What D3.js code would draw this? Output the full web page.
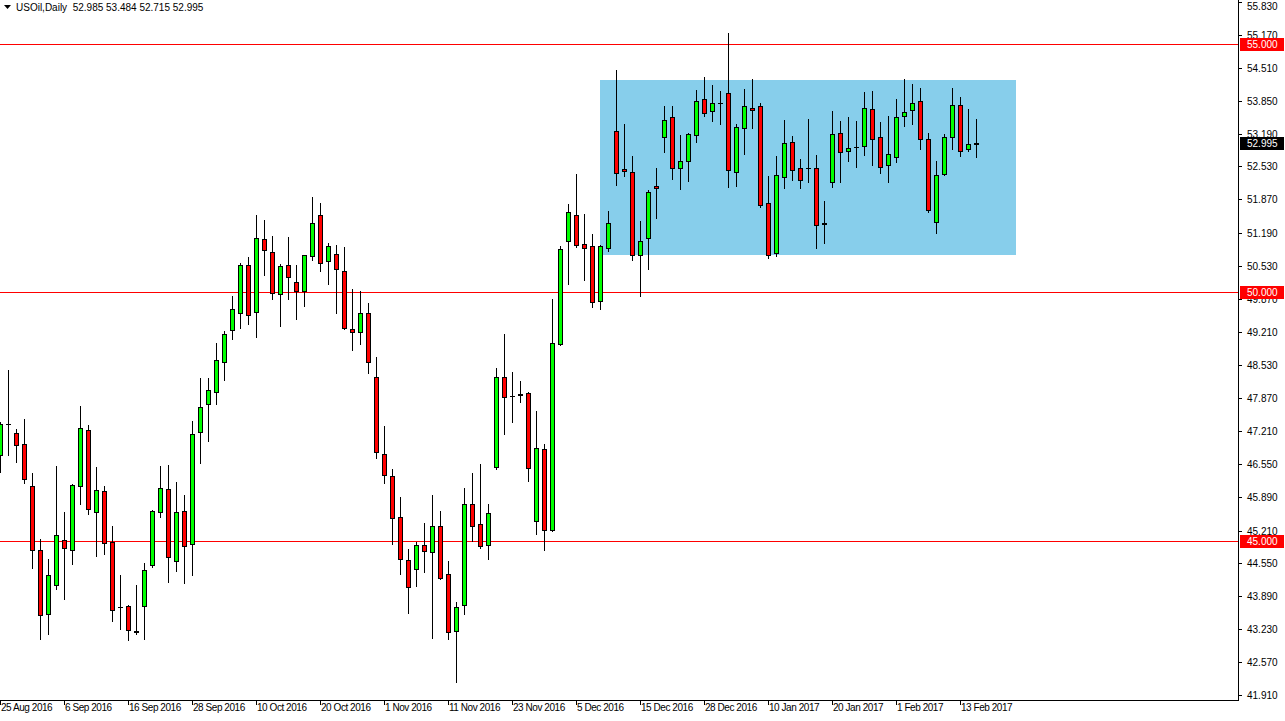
<!DOCTYPE html>
<html>
<head>
<meta charset="utf-8">
<script src="https://cdn.jsdelivr.net/npm/d3@7"></script>
<style>
html,body{margin:0;padding:0;background:#fff;}
svg{display:block;}
text{font-family:"Liberation Sans",Arial,sans-serif;}
</style>
</head>
<body>
<svg id="chart" width="1285" height="721"></svg>
<script>
const symbol = "USOil,Daily";
const lastQuote = ["52.985","53.484","52.715","52.995"];

const opens = [46.728,47.346,47.165,46.943,46.099,44.812,43.525,44.108,45.013,44.812,46.099,47.225,45.576,45.998,44.973,43.666,43.686,43.189,43.686,44.510,
45.576,46.039,44.591,45.596,44.933,47.185,47.748,47.989,48.592,49.236,49.578,50.543,49.598,51.066,50.804,49.960,50.543,50.201,50.020,50.724,
51.548,50.623,50.764,50.422,49.256,49.196,49.578,48.291,46.742,46.300,45.475,44.611,44.430,44.912,44.772,45.294,44.329,43.183,43.706,45.737,
45.335,44.912,46.481,48.291,47.909,47.945,47.969,45.395,46.843,45.214,48.954,51.026,51.548,50.965,50.925,49.819,50.885,53.238,52.473,52.413,
50.744,51.086,52.132,53.117,53.519,52.494,52.634,53.157,53.881,53.640,53.801,54.002,52.413,53.298,53.700,53.740,51.790,50.784,52.313,53.016,
52.494,52.494,52.494,51.388,52.212,53.197,52.835,52.916,52.936,53.680,53.117,52.554,52.715,53.539,53.660,53.841,53.077,51.408,52.373,53.117,
53.760,52.876,52.985];
const highs = [47.398,48.438,47.245,47.446,46.360,45.033,44.631,46.507,45.582,46.139,47.714,47.325,46.487,46.105,45.300,44.315,43.706,44.114,44.556,45.622,
46.507,46.527,46.185,45.924,47.412,48.277,48.277,48.974,49.222,49.920,50.589,50.704,51.554,51.454,51.132,50.563,51.112,50.549,50.744,51.916,
51.796,50.991,50.951,50.905,50.060,50.026,49.779,48.699,47.311,46.441,45.878,44.832,44.979,45.355,45.918,45.596,44.591,43.766,46.059,46.372,
46.541,45.737,48.472,49.155,48.391,48.210,47.989,47.607,46.943,49.859,50.931,51.770,52.373,51.569,51.166,50.945,51.629,54.464,53.378,52.735,
51.428,52.051,52.494,53.740,53.740,53.157,53.197,54.062,54.323,54.163,54.042,55.208,53.378,54.082,54.283,53.801,52.333,52.735,53.459,53.137,
52.674,53.479,52.755,51.830,53.640,53.439,53.519,53.439,54.022,54.042,53.419,53.539,53.881,54.283,54.183,54.102,53.197,52.634,53.177,54.102,
53.921,53.680,53.484];
const lows = [46.392,46.728,46.594,46.171,44.462,43.022,43.135,44.040,43.827,44.530,45.749,45.536,44.703,44.744,43.396,43.235,43.014,43.135,43.034,44.482,
45.488,44.180,44.396,44.160,44.321,46.573,47.016,47.760,48.242,49.067,49.288,49.369,49.107,50.354,49.859,49.328,49.871,49.469,49.731,50.643,
50.422,50.173,49.590,49.256,48.846,48.966,48.383,46.668,46.171,44.945,44.329,43.545,44.088,44.382,43.054,44.240,43.022,42.170,43.525,44.993,
44.852,44.631,46.441,47.145,47.386,47.788,46.199,45.134,44.812,45.200,48.940,50.161,50.905,50.253,49.698,49.658,50.824,52.152,52.333,50.643,
49.920,50.463,51.488,52.815,52.284,52.071,52.232,53.016,53.539,53.439,53.378,52.111,52.132,52.775,53.298,51.721,50.684,50.724,52.091,52.252,
52.091,52.212,50.885,50.985,52.111,52.212,52.634,52.526,52.755,52.554,52.393,52.212,52.614,53.338,53.378,52.876,51.609,51.186,52.360,52.876,
52.735,52.835,52.715];
const closes = [47.346,47.352,46.923,46.240,44.812,43.505,44.309,45.114,44.852,46.119,47.265,45.642,46.018,44.953,43.605,43.670,43.203,43.163,44.410,45.596,
46.059,44.671,45.576,44.892,47.145,47.687,48.029,48.633,49.155,49.658,50.543,49.537,51.086,50.845,49.980,50.523,50.302,50.020,50.744,51.388,
50.583,50.925,50.463,49.276,49.196,49.578,48.604,46.789,46.320,45.455,44.631,44.068,44.912,44.792,45.294,44.249,43.163,43.666,45.737,45.294,
44.892,45.556,48.291,47.889,47.905,47.929,46.461,46.863,45.214,48.974,50.865,51.609,50.945,50.885,49.799,50.925,51.388,52.393,52.433,50.744,
51.026,52.011,52.091,53.459,52.494,52.634,53.177,53.841,53.600,53.801,53.805,52.453,53.318,53.740,53.660,51.749,50.744,52.353,52.996,52.453,
52.252,52.490,51.347,51.367,53.177,52.815,52.896,52.920,53.700,53.077,52.514,52.775,53.519,53.620,53.801,53.077,51.649,52.353,53.117,53.760,
52.835,52.985,52.995];

const dateLabels = ["25 Aug 2016","6 Sep 2016","16 Sep 2016","28 Sep 2016","10 Oct 2016","20 Oct 2016","1 Nov 2016","11 Nov 2016",
"23 Nov 2016","5 Dec 2016","15 Dec 2016","28 Dec 2016","10 Jan 2017","20 Jan 2017","1 Feb 2017","13 Feb 2017"];
const dateLabelBars = [0,8,16,24,32,40,48,56,64,72,80,88,96,104,112,120];

const priceTicks = [55.830,55.170,54.510,53.850,53.190,52.530,51.870,51.190,50.530,49.870,49.210,48.530,47.870,47.210,46.550,45.890,45.210,44.550,43.890,43.230,42.570,41.910];

const levels = [55.000, 50.000, 45.000];
const levelLabels = ["55.000","50.000","45.000"];
const currentPrice = 52.995;

// range box: bar index span and price span
const boxBars = [75, 127];
const boxPrices = [54.269, 50.756];

const W = 1285, H = 721;
const plotRight = 1238, plotBottom = 700;

const svg = d3.select("#chart");
const x = d3.scaleLinear().domain([0, 122]).range([0, 976]);
const y = d3.scaleLinear().domain([50, 55]).range([292.3, 43.65]);

// box
svg.append("rect")
  .attr("x", Math.round(x(boxBars[0])))
  .attr("y", Math.round(y(boxPrices[0])))
  .attr("width", Math.round(x(boxBars[1])) - Math.round(x(boxBars[0])))
  .attr("height", Math.round(y(boxPrices[1])) - Math.round(y(boxPrices[0])))
  .attr("fill", "#87ceeb");

// level lines
svg.selectAll("line.level").data(levels).join("line")
  .attr("class","level")
  .attr("x1", 0).attr("x2", plotRight)
  .attr("y1", d => Math.round(y(d)) + 0.5).attr("y2", d => Math.round(y(d)) + 0.5)
  .attr("stroke", "#ff0000").attr("stroke-width", 1).attr("shape-rendering","crispEdges");

// candles
const bars = d3.range(opens.length).map(i => ({i, o: opens[i], h: highs[i], l: lows[i], c: closes[i]}));
const g = svg.append("g").attr("shape-rendering","crispEdges");
bars.forEach(b => {
  const cx = Math.round(x(b.i));
  const yh = Math.round(y(b.h)), yl = Math.round(y(b.l));
  const top = Math.round(y(Math.max(b.o, b.c))), bot = Math.round(y(Math.min(b.o, b.c)));
  g.append("line").attr("x1", cx + 0.5).attr("x2", cx + 0.5).attr("y1", yh).attr("y2", yl + 1)
    .attr("stroke", "#000").attr("stroke-width", 1);
  if (bot - top < 2) {
    g.append("rect").attr("x", cx - 2).attr("y", top).attr("width", 5).attr("height", Math.max(1, bot - top + 1))
      .attr("fill", "#000");
  } else {
    g.append("rect").attr("x", cx - 1.5).attr("y", top + 0.5).attr("width", 4).attr("height", bot - top)
      .attr("fill", b.c >= b.o ? "#00ff00" : "#ff0000").attr("stroke", "#000").attr("stroke-width", 1);
  }
});

// axes frame
svg.append("line").attr("x1", plotRight + 0.5).attr("x2", plotRight + 0.5).attr("y1", 0).attr("y2", plotBottom + 1)
  .attr("stroke", "#000").attr("shape-rendering","crispEdges");
svg.append("line").attr("x1", 0).attr("x2", plotRight + 1).attr("y1", plotBottom + 0.5).attr("y2", plotBottom + 0.5)
  .attr("stroke", "#000").attr("shape-rendering","crispEdges");

// price ticks & labels
const pt = svg.append("g");
priceTicks.forEach((p, idx) => {
  const yy = Math.round(y(p));
  pt.append("line").attr("x1", plotRight).attr("x2", plotRight + 4).attr("y1", yy + 0.5).attr("y2", yy + 0.5)
    .attr("stroke", "#000").attr("shape-rendering","crispEdges");
  pt.append("text").attr("x", plotRight + 9).attr("y", Math.max(yy, 6)).attr("dy", "0.35em")
    .attr("font-size", "10px").attr("fill", "#000").text(p.toFixed(3));
});

// level labels
levels.forEach((lv, i) => {
  const yy = Math.round(y(lv));
  svg.append("rect").attr("x", plotRight + 2).attr("y", yy - 6).attr("width", 44).attr("height", 13).attr("fill", "#ff0000");
  svg.append("text").attr("x", plotRight + 9).attr("y", yy + 0.5).attr("dy", "0.35em")
    .attr("font-size", "10px").attr("fill", "#fff").text(levelLabels[i]);
});

// current price label
{
  const yy = Math.round(y(currentPrice));
  svg.append("rect").attr("x", plotRight + 2).attr("y", yy - 6).attr("width", 44).attr("height", 13).attr("fill", "#000");
  svg.append("text").attr("x", plotRight + 9).attr("y", yy + 0.5).attr("dy", "0.35em")
    .attr("font-size", "10px").attr("fill", "#fff").text(currentPrice.toFixed(3));
}

// date ticks & labels
dateLabelBars.forEach((bi, i) => {
  const xx = Math.round(x(bi));
  svg.append("line").attr("x1", xx + 0.5).attr("x2", xx + 0.5).attr("y1", plotBottom).attr("y2", plotBottom + 5)
    .attr("stroke", "#000").attr("shape-rendering","crispEdges");
  svg.append("text").attr("x", xx + 1).attr("y", 711)
    .attr("font-size", "10px").attr("letter-spacing", "-0.45px").attr("fill", "#000").text(dateLabels[i]);
});

// header legend
svg.append("path").attr("d", "M4,5 L11,5 L7.5,9 Z").attr("fill", "#000");
svg.append("text").attr("x", 16).attr("y", 11).attr("font-size", "10px").attr("fill", "#000")
  .attr("xml:space", "preserve").style("white-space", "pre")
  .text(symbol + "  " + lastQuote.join(" "));
</script>
</body>
</html>
